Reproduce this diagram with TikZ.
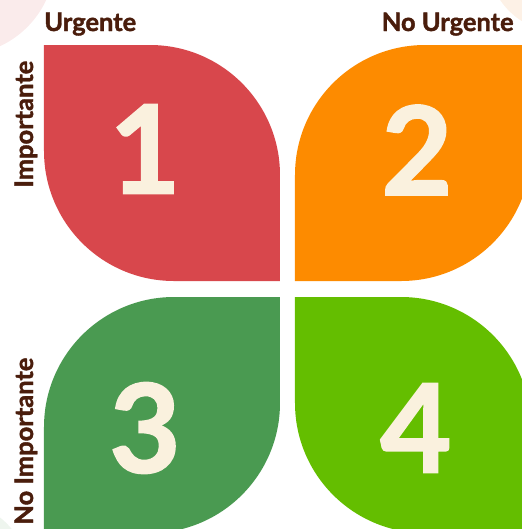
\documentclass[tikz,border=0pt]{standalone}
\usepackage{fontspec}
\setmainfont{Lato}
\newfontfamily\heavyfont{Lato}[BoldFeatures={FakeBold=1.5}]
\usepackage{tikz}
\definecolor{leafred}{HTML}{D8474C}
\definecolor{leaforange}{HTML}{FD8B00}
\definecolor{leafgreen}{HTML}{4A9A51}
\definecolor{leaflime}{HTML}{64BE00}
\definecolor{numcream}{HTML}{FAF1DE}
\definecolor{labelbrown}{HTML}{4A1D0C}
\definecolor{bgpink}{HTML}{FAEBEB}
\definecolor{bgpeach}{HTML}{FDF1E6}
\definecolor{bggreen}{HTML}{EEF5EE}
\tikzset{
  axislabel/.style={text=labelbrown, inner sep=0pt, font=\heavyfont\fontsize{14.5}{16}\selectfont\bfseries},
  bignum/.style={text=numcream, inner sep=0pt, font=\heavyfont\fontsize{70}{70}\selectfont\bfseries}
}

\begin{document}
\begin{tikzpicture}[x=0.02cm, y=-0.02cm]
				\useasboundingbox (0,0) rectangle (522,529);
				\clip (0,0) rectangle (522,529);
				
				% faint circles in the corners
				\fill[bgpink] (-40,-40) circle (95);
				\fill[bgpeach] (560,-40) circle (72);
				\fill[bggreen] (-40,570) circle (66);
				
				% the four leaves
				\fill[leafred] (44,45) -- (150,45) arc (-90:0:130) -- (280,281) -- (174,281) arc (90:180:130) -- cycle;
				\fill[leaforange] (531,45) -- (531,151) arc (0:90:130) -- (295,281) -- (295,175) arc (180:270:130) -- cycle;
				\fill[leafgreen] (280,297) -- (280,403) arc (0:90:130) -- (44,533) -- (44,427) arc (180:270:130) -- cycle;
				\fill[leaflime] (295,297) -- (401,297) arc (-90:0:130) -- (531,533) -- (425,533) arc (90:180:130) -- cycle;
				
				\node[bignum] (one) at (145,149) {1};
				\node[bignum] (two) at (417,150) {2};
				\node[bignum] (three) at (145,428) {3};
				\node[bignum] (four) at (416,428) {4};
				
				\node[axislabel, anchor=base west] (urg) at (44,31) {Urgente};
				\node[axislabel, anchor=base east] (nourg) at (514,31) {No Urgente};
				\node[axislabel, anchor=base west, rotate=90] (imp) at (33,188) {Importante};
				\node[axislabel, anchor=base west, rotate=90] (noimp) at (33,525) {No Importante};
\end{tikzpicture}
\end{document}
